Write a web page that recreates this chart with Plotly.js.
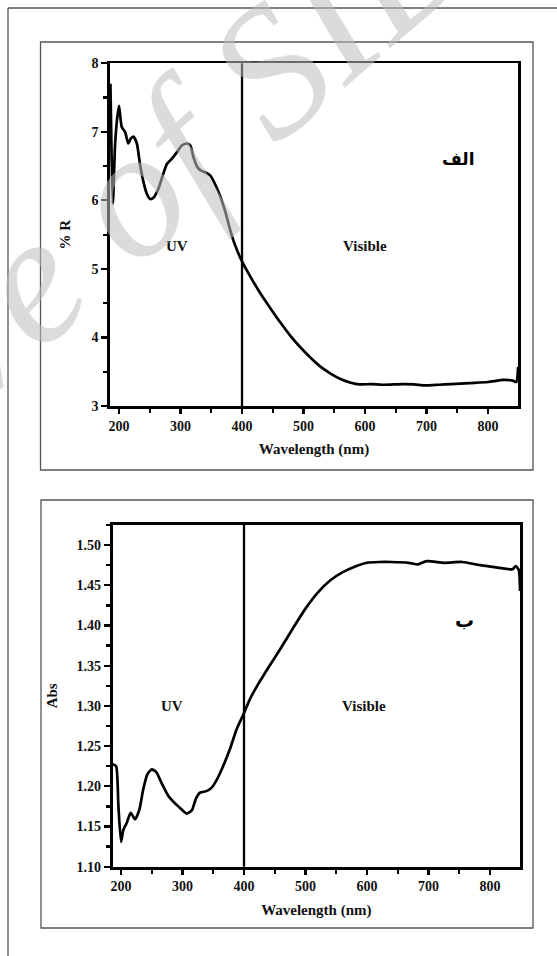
<!DOCTYPE html>
<html>
<head>
<meta charset="utf-8">
<script src="https://cdn.plot.ly/plotly-3.0.1.min.js"></script>
<style>html,body{margin:0;padding:0;background:#fff;}#chart{width:557px;height:956px;}</style>
</head>
<body>
<div id="chart"></div>
<script>
// ---- Panel A (الف): reflectance ----
const wlR = [186, 188, 190, 193.5, 197, 200, 204.4, 209.8, 215, 219, 223.4, 229, 234, 239.7, 245, 250.6, 256, 264, 272, 277.8, 286, 294, 302, 310.5, 316, 321, 327, 332, 340, 348.6, 357, 365, 373, 381, 389, 400, 414, 430, 446.6, 463, 479, 495.6, 512, 528, 544.6, 561, 577, 591, 610, 630, 661, 680, 698, 720, 740, 770, 800, 825, 840, 846, 849];
const pctR = [7.7, 6.6, 5.95, 6.8, 7.2, 7.38, 7.07, 7.0, 6.83, 6.9, 6.93, 6.83, 6.53, 6.27, 6.1, 6.02, 6.04, 6.17, 6.39, 6.53, 6.61, 6.7, 6.8, 6.83, 6.8, 6.63, 6.49, 6.44, 6.41, 6.36, 6.22, 6.05, 5.83, 5.56, 5.34, 5.11, 4.88, 4.64, 4.42, 4.21, 4.02, 3.85, 3.70, 3.57, 3.47, 3.39, 3.34, 3.315, 3.32, 3.31, 3.32, 3.315, 3.3, 3.31, 3.32, 3.335, 3.35, 3.38, 3.37, 3.35, 3.57];

// ---- Panel B (ب): absorbance ----
const wlA = [186.4, 187.5, 192, 195.7, 200, 203.8, 209, 215.7, 222.8, 229.8, 236, 242.8, 249.9, 257, 266, 277, 285, 296, 306.8, 315, 322, 328.5, 339, 347, 355.6, 366, 377, 388, 400, 410, 420, 440, 460, 480, 500, 520, 540, 560, 580, 600, 620, 640, 668, 683, 697, 726, 755, 784, 813, 837, 842, 847, 849];
const absA = [1.226, 1.227, 1.225, 1.175, 1.131, 1.146, 1.154, 1.167, 1.159, 1.171, 1.196, 1.215, 1.221, 1.218, 1.204, 1.188, 1.181, 1.173, 1.166, 1.17, 1.185, 1.192, 1.194, 1.198, 1.208, 1.225, 1.246, 1.271, 1.291, 1.309, 1.323, 1.348, 1.372, 1.397, 1.421, 1.441, 1.456, 1.466, 1.473, 1.478, 1.479, 1.479, 1.478, 1.476, 1.48, 1.478, 1.479, 1.475, 1.472, 1.47, 1.474, 1.469, 1.443];

// ---- ticks / labels ----
const xTicks = [200, 300, 400, 500, 600, 700, 800];
const xMinor = [250, 350, 450, 550, 650, 750, 850];
const yTicksR = [3, 4, 5, 6, 7, 8];
const yMinorR = [3.5, 4.5, 5.5, 6.5, 7.5];
const yTicksA = [1.10, 1.15, 1.20, 1.25, 1.30, 1.35, 1.40, 1.45, 1.50];
const yTickTextA = ['1.10', '1.15', '1.20', '1.25', '1.30', '1.35', '1.40', '1.45', '1.50'];
const yMinorA = [1.125, 1.175, 1.225, 1.275, 1.325, 1.375, 1.425, 1.475, 1.525];
const uvVisBoundary = 400;
const xTitle = 'Wavelength (nm)';
const yTitleR = '% R';
const yTitleA = 'Abs';
const regionLabels = ['UV', 'Visible'];
const panelLabels = ['الف', 'ب'];
const watermark = 'Archive of SID';

const W = 557, H = 956;
const px = v => v / W;
const py = v => 1 - v / H;

const serif = 'Liberation Serif, Times New Roman, serif';
const tickFont = {family: serif, size: 14, color: '#111', weight: 700};
const titleFont = {family: serif, size: 15, color: '#111', weight: 700};

function xAxis(dom, rng, anchor, standoff) {
  return {
    domain: dom, range: rng, anchor: anchor,
    tickmode: 'array', tickvals: xTicks, ticktext: xTicks.map(String),
    ticks: 'outside', ticklen: 5, tickwidth: 2.2, tickcolor: '#000',
    minor: {tickmode: 'array', tickvals: xMinor, ticks: 'outside', ticklen: 4, tickwidth: 2.2, tickcolor: '#000', showgrid: false},
    showline: true, linewidth: 2.8, linecolor: '#000', mirror: true,
    showgrid: false, zeroline: false, tickfont: tickFont,
    title: {text: xTitle, font: titleFont, standoff: standoff}
  };
}
function yAxis(dom, rng, anchor, vals, txt, minor, title, standoff) {
  return {
    domain: dom, range: rng, anchor: anchor,
    tickmode: 'array', tickvals: vals, ticktext: txt,
    ticks: 'outside', ticklen: 6, tickwidth: 2.2, tickcolor: '#000',
    minor: {tickmode: 'array', tickvals: minor, ticks: 'outside', ticklen: 4, tickwidth: 2.2, tickcolor: '#000', showgrid: false},
    showline: true, linewidth: 2.8, linecolor: '#000', mirror: true,
    showgrid: false, zeroline: false, tickfont: tickFont,
    title: {text: title, font: titleFont, standoff: standoff}
  };
}

const traces = [
  {x: wlR, y: pctR, xaxis: 'x', yaxis: 'y', type: 'scatter', mode: 'lines',
   line: {color: '#000', width: 2.7, shape: 'spline', smoothing: 0.6}, hoverinfo: 'skip'},
  {x: wlA, y: absA, xaxis: 'x2', yaxis: 'y2', type: 'scatter', mode: 'lines',
   line: {color: '#000', width: 2.7, shape: 'spline', smoothing: 0.6}, hoverinfo: 'skip'}
];

const boxLine = {color: '#555', width: 1.3};
const shapes = [
  // outer frame
  {type: 'line', xref: 'paper', yref: 'paper', x0: px(8), x1: px(8), y0: py(8), y1: py(956), line: boxLine},
  {type: 'line', xref: 'paper', yref: 'paper', x0: px(8), x1: px(557), y0: py(8), y1: py(8), line: boxLine},
  // panel boxes
  {type: 'rect', xref: 'paper', yref: 'paper', x0: px(40.5), x1: px(533), y0: py(42), y1: py(470), line: boxLine},
  {type: 'rect', xref: 'paper', yref: 'paper', x0: px(41), x1: px(533), y0: py(500), y1: py(928), line: boxLine},
  // UV / Visible boundary
  {type: 'line', xref: 'x', yref: 'y domain', x0: uvVisBoundary, x1: uvVisBoundary, y0: 0, y1: 1, line: {color: '#000', width: 2.3}},
  {type: 'line', xref: 'x2', yref: 'y2 domain', x0: uvVisBoundary, x1: uvVisBoundary, y0: 0, y1: 1, line: {color: '#000', width: 2.3}}
];

const labelFont = {family: serif, size: 15, color: '#111', weight: 700};
const arFont = {family: 'DejaVu Sans, Noto Sans, sans-serif', size: 17, color: '#000', weight: 700};
const annotations = [
  {xref: 'x', yref: 'y', x: 294, y: 5.33, text: regionLabels[0], showarrow: false, font: labelFont},
  {xref: 'x', yref: 'y', x: 600, y: 5.33, text: regionLabels[1], showarrow: false, font: labelFont},
  {xref: 'x', yref: 'y', x: 752, y: 6.61, text: panelLabels[0], showarrow: false, font: arFont},
  {xref: 'x2', yref: 'y2', x: 283, y: 1.30, text: regionLabels[0], showarrow: false, font: labelFont},
  {xref: 'x2', yref: 'y2', x: 595, y: 1.30, text: regionLabels[1], showarrow: false, font: labelFont},
  {xref: 'x2', yref: 'y2', x: 759, y: 1.407, text: panelLabels[1], showarrow: false, font: {family: arFont.family, size: 19, color: '#000', weight: 700}},
  {xref: 'paper', yref: 'paper', x: px(37), y: py(273), text: watermark, showarrow: false,
   textangle: -41, xanchor: 'center', yanchor: 'middle',
   font: {family: serif, size: 184, style: 'italic', color: 'rgba(190,190,190,0.55)'}}
];

const layout = {
  width: W, height: H,
  margin: {l: 0, r: 0, t: 0, b: 0},
  paper_bgcolor: '#fff', plot_bgcolor: '#fff',
  showlegend: false,
  font: {family: serif, size: 14, color: '#111'},
  xaxis: xAxis([px(110), px(518)], [185.3, 848.8], 'y', 11),
  yaxis: yAxis([py(406), py(63.3)], [3, 8], 'x', yTicksR, yTicksR.map(String), yMinorR, yTitleR, 18),
  xaxis2: xAxis([px(112.7), px(520)], [186.4, 849], 'y2', 12),
  yaxis2: yAxis([py(866.7), py(525)], [1.10, 1.525], 'x2', yTicksA, yTickTextA, yMinorA, yTitleA, 16),
  shapes: shapes,
  annotations: annotations
};

Plotly.newPlot('chart', traces, layout, {staticPlot: true, displayModeBar: false});
</script>
</body>
</html>
